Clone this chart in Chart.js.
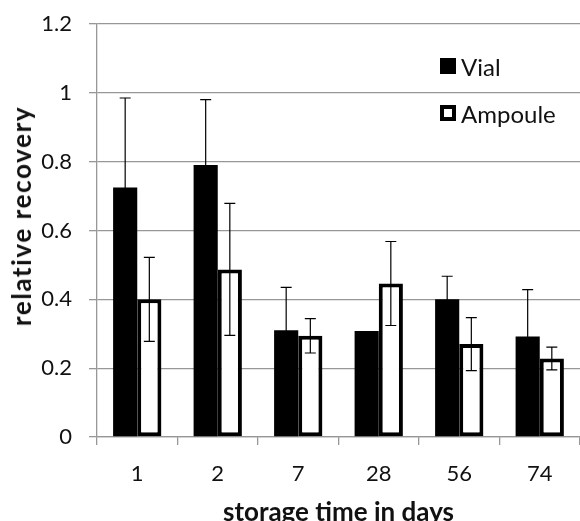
<!DOCTYPE html>
<html>
<head>
<meta charset="utf-8">
<title>relative recovery vs storage time</title>
<script src="https://cdn.jsdelivr.net/npm/chart.js@4.4.1/dist/chart.umd.min.js"></script>
<style>
  html, body { margin: 0; padding: 0; background: #fff; }
  #wrap { position: relative; width: 580px; height: 521px; font-family: Lato, sans-serif; color: #111; }
  #yTitle {
    position: absolute; left: 21px; top: 216px;
    transform: translate(-50%, -50%) rotate(-90deg);
    font-weight: bold; font-size: 26px; letter-spacing: 1.6px; white-space: nowrap;
  }
  #legend { position: absolute; left: 440px; top: 53px; font-size: 24px; }
  .item { display: flex; align-items: center; height: 26px; margin-bottom: 21px; }
  .swatch { width: 16px; height: 16px; box-sizing: border-box; margin-right: 5px; }
</style>
</head>
<body>
<div id="wrap">
  <canvas id="chart" width="580" height="521"></canvas>
  <div id="yTitle">relative recovery</div>
  <div id="legend"></div>
</div>
<script>
// ---- data ----
const days = ['1', '2', '7', '28', '56', '74'];
const vial = [0.725, 0.79, 0.31, 0.308, 0.40, 0.292];
const vialErr = [0.26, 0.19, 0.125, 0, 0.067, 0.136];
const ampoule = [0.40, 0.487, 0.294, 0.446, 0.27, 0.228];
const ampouleErr = [0.122, 0.192, 0.05, 0.122, 0.077, 0.033];
const yTickValues = [0, 0.2, 0.4, 0.6, 0.8, 1, 1.2];
const yTickLabels = ['0', '0.2', '0.4', '0.6', '0.8', '1', '1.2'];

const GRID = '#979797';
const INK = '#111';
const ERR = '#000';

// error bars drawn with the y scale of the chart
const errorBars = {
  id: 'errorBars',
  afterDatasetsDraw(chart) {
    const ctx = chart.ctx;
    const y = chart.scales.y;
    chart.data.datasets.forEach(function (ds, di) {
      const meta = chart.getDatasetMeta(di);
      meta.data.forEach(function (bar, i) {
        const v = ds.data[i], e = ds.errors[i];
        if (!e) return;
        const top = y.getPixelForValue(v + e);
        const bot = y.getPixelForValue(v - e);
        ctx.save();
        ctx.strokeStyle = ERR;
        ctx.lineWidth = 1.2;
        ctx.beginPath();
        ctx.moveTo(bar.x, top); ctx.lineTo(bar.x, bot);
        ctx.moveTo(bar.x - 5.5, top); ctx.lineTo(bar.x + 5.5, top);
        ctx.moveTo(bar.x - 5.5, bot); ctx.lineTo(bar.x + 5.5, bot);
        ctx.stroke();
        ctx.restore();
      });
    });
  }
};

const chart = new Chart(document.getElementById('chart'), {
  type: 'bar',
  data: {
    labels: days,
    datasets: [
      {
        label: 'Vial',
        data: vial,
        errors: vialErr,
        backgroundColor: '#000',
        borderWidth: 0,
        categoryPercentage: 0.6,
        barPercentage: 1
      },
      {
        label: 'Ampoule',
        data: ampoule,
        errors: ampouleErr,
        backgroundColor: '#fff',
        borderColor: '#000',
        borderWidth: 4,
        borderSkipped: false,
        categoryPercentage: 0.6,
        barPercentage: 1
      }
    ]
  },
  options: {
    responsive: false,
    animation: false,
    layout: { padding: { top: 24, right: 0, bottom: 0, left: 0 } },
    plugins: { legend: { display: false }, tooltip: { enabled: false } },
    scales: {
      x: {
        offset: true,
        grid: { offset: true, drawOnChartArea: false, tickLength: 8, color: GRID, lineWidth: 1.3 },
        border: { color: GRID, width: 1.3 },
        ticks: { color: INK, padding: 16, font: { family: 'Lato', size: 22 } },
        title: {
          display: true,
          text: 'storage time in days',
          color: INK,
          font: { family: 'Lato', size: 26, weight: 'bold' },
          padding: { top: 0, bottom: -7 }
        },
        afterFit: function (s) { s.height = 84; }
      },
      y: {
        min: 0,
        max: 1.2,
        afterBuildTicks: function (s) { s.ticks = yTickValues.map(function (v) { return { value: v }; }); },
        grid: { color: GRID, lineWidth: 1.3, tickLength: 8 },
        border: { color: GRID, width: 1.3 },
        ticks: {
          color: INK,
          padding: 17,
          font: { family: 'Lato', size: 22 },
          callback: function (v, i) { return yTickLabels[i]; }
        },
        afterFit: function (s) {
          s.width = 97;
          s.paddingTop = 0;
          s.paddingBottom = 0;
        }
      }
    }
  },
  plugins: [errorBars]
});

// legend from the datasets
const legend = document.getElementById('legend');
chart.data.datasets.forEach(function (ds) {
  const item = document.createElement('div');
  item.className = 'item';
  const sw = document.createElement('span');
  sw.className = 'swatch';
  sw.style.background = ds.backgroundColor;
  if (ds.borderWidth) sw.style.border = ds.borderWidth + 'px solid ' + ds.borderColor;
  const txt = document.createElement('span');
  txt.textContent = ds.label;
  item.appendChild(sw);
  item.appendChild(txt);
  legend.appendChild(item);
});
</script>
</body>
</html>
